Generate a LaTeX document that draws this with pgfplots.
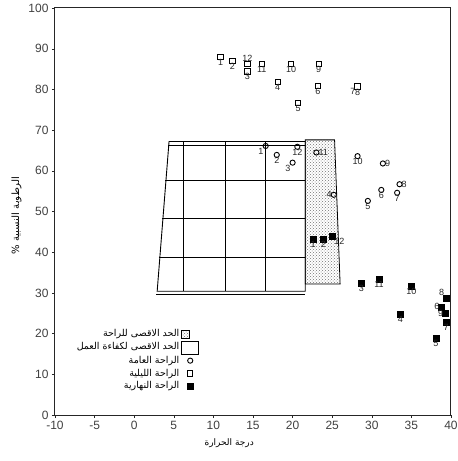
\documentclass[border=0pt]{standalone}
\usepackage{fontspec}
\setmainfont{Liberation Sans}
\newfontfamily\arabicfont[Script=Arabic]{DejaVu Sans}
\usepackage{pgfplots}
\usepackage{pgfplotstable}
\pgfplotsset{compat=1.18}
\usetikzlibrary{patterns}
\TeXXeTstate=1

% night comfort (open squares)
\pgfplotstableread{
T RH
10.9 88.0
12.4 87.0
14.3 86.2
14.3 84.4
16.1 86.2
19.8 86.2
23.3 86.2
18.1 81.9
23.2 80.8
20.7 76.6
28.2 80.7
}\nightdata

% general comfort (circles)
\pgfplotstableread{
T RH
16.6 66.1
18.0 63.9
20.0 62.0
20.6 65.9
23.0 64.5
25.2 54.1
28.2 63.6
31.4 61.8
33.5 56.7
31.2 55.3
33.2 54.6
29.5 52.6
}\generaldata

% day comfort (filled squares)
\pgfplotstableread{
T RH
22.6 43.2
23.9 43.2
25.0 44.0
28.7 32.5
30.9 33.4
35.0 31.7
33.6 24.7
39.4 28.7
38.8 26.6
39.3 25.0
39.4 22.9
38.1 18.8
}\daydata

\pgfplotsset{monthlabels/.style={forget plot, only marks, mark=none,
  point meta=explicit symbolic, nodes near coords,
  nodes near coords style={anchor=#1, font=\fontsize{9}{10}\selectfont, inner sep=2pt, text=black!85}}}

\begin{document}
\begin{tikzpicture}
\begin{axis}[
  scale only axis, width=396pt, height=407pt,
  xmin=-10, xmax=40, ymin=0, ymax=100,
  xtick={-10,-5,...,40}, ytick={0,10,...,100},
  tick pos=left, tick align=outside, major tick length=3pt,
  axis line style={line width=1pt, black!85},
  tick style={black!85},
  /pgf/number format/assume math mode=true,
  tick label style={font=\fontsize{12}{14}\selectfont, text=black!75},
  xlabel={\arabicfont\beginR درجة الحرارة\endR},
  ylabel={\arabicfont\beginR الرطوبة النسبية \%\endR},
  xlabel style={font=\fontsize{9}{11}\selectfont, at={(rel axis cs:0.44,0)}, anchor=north, yshift=-20pt},
  ylabel style={font=\fontsize{10}{12}\selectfont, xshift=-4pt},
  legend style={at={(axis cs:8.6,5)}, anchor=south east, draw=none, fill=none,
    font=\fontsize{9.5}{11}\selectfont, cells={anchor=east}, row sep=0pt},
  legend plot pos=right,
  legend cell align=right,
]
% stippled comfort limit
\addplot[draw=black, line width=0.8pt, pattern=crosshatch dots, pattern color=black!55,
  legend image code/.code={\draw[black, line width=0.6pt, pattern=crosshatch dots, pattern color=black!55] (0cm,-0.13cm) rectangle (0.26cm,0.13cm);}]
  coordinates {(21.6,67.6) (25.3,67.6) (26.0,32.2) (21.6,32.2)} -- cycle;
\addlegendentry{\arabicfont\beginR الحد الاقصى للراحة\endR}
% work efficiency limit (grid)
\addplot[draw=black, line width=0.9pt,
  legend image code/.code={\draw[black, line width=0.7pt] (0cm,-0.25cm) rectangle (0.6cm,0.2cm);}]
  coordinates {(4.4,67.2) (21.6,67.2) (21.6,30.4) (2.9,30.4)} -- cycle;
\addlegendentry{\arabicfont\beginR الحد الاقصى لكفاءة العمل\endR}
% general comfort
\addplot[only marks, mark=o, mark size=2.6pt, black, line width=0.9pt]
  table[x=T, y=RH]{\generaldata};
\addlegendentry{\arabicfont\beginR الراحة العامة\endR}
% night comfort
\addplot[only marks, mark=square, mark size=2.6pt, black, line width=0.9pt]
  table[x=T, y=RH]{\nightdata};
\addlegendentry{\arabicfont\beginR الراحة الليلية\endR}
% day comfort
\addplot[only marks, mark=square*, mark size=3pt, black]
  table[x=T, y=RH]{\daydata};
\addlegendentry{\arabicfont\beginR الراحة النهارية\endR}
% month labels (grouped by label position)
\addplot[monthlabels=north] coordinates {
  (10.9,88.0) [1] (12.4,87.0) [2] (14.3,84.4) [3] (16.1,86.2) [11] (19.8,86.2) [10]
  (23.3,86.2) [9] (18.1,81.9) [4] (23.2,80.8) [6] (20.7,76.6) [5] (28.2,80.7) [8]
  (18.0,63.9) [2] (20.6,65.9) [12] (28.2,63.6) [10] (31.2,55.3) [6] (33.2,54.6) [7] (29.5,52.6) [5]
  (22.6,43.2) [1] (23.9,43.2) [2] (28.7,32.5) [3] (30.9,33.4) [11] (35.0,31.7) [10]
  (33.6,24.7) [4] (39.4,22.9) [7] (38.1,18.8) [5]};
\addplot[monthlabels=south] coordinates {(14.3,86.2) [12]};
\addplot[monthlabels=north east] coordinates {(28.2,80.7) [7] (16.6,66.1) [1] (20.0,62.0) [3]};
\addplot[monthlabels=west] coordinates {(23.0,64.5) [11] (31.4,61.8) [9] (33.5,56.7) [8]};
\addplot[monthlabels=east] coordinates {(25.2,54.1) [4] (38.8,26.6) [6] (39.3,25.0) [9]};
\addplot[monthlabels=north west] coordinates {(25.0,44.0) [12]};
\addplot[monthlabels=south east] coordinates {(39.4,28.7) [8]};
% grid lines and double edges
\addplot[forget plot, black, line width=0.9pt] coordinates {(6.2,67.2) (6.2,30.4)};
\addplot[forget plot, black, line width=0.9pt] coordinates {(11.5,67.2) (11.5,30.4)};
\addplot[forget plot, black, line width=0.9pt] coordinates {(16.6,67.2) (16.6,30.4)};
\addplot[forget plot, black, line width=0.9pt] coordinates {(3.9,57.7) (21.6,57.7)};
\addplot[forget plot, black, line width=0.9pt] coordinates {(3.5,48.3) (21.6,48.3)};
\addplot[forget plot, black, line width=0.9pt] coordinates {(3.1,38.7) (21.6,38.7)};
\addplot[forget plot, black, line width=0.7pt] coordinates {(4.3,66.3) (21.6,66.3)};
\addplot[forget plot, black, line width=0.7pt] coordinates {(2.8,29.6) (21.6,29.6)};
\end{axis}
\pgfresetboundingbox
\path (current axis.south west) ++(-55pt,-46pt) rectangle ([shift={(7pt,8pt)}]current axis.north east);
\end{tikzpicture}
\end{document}
